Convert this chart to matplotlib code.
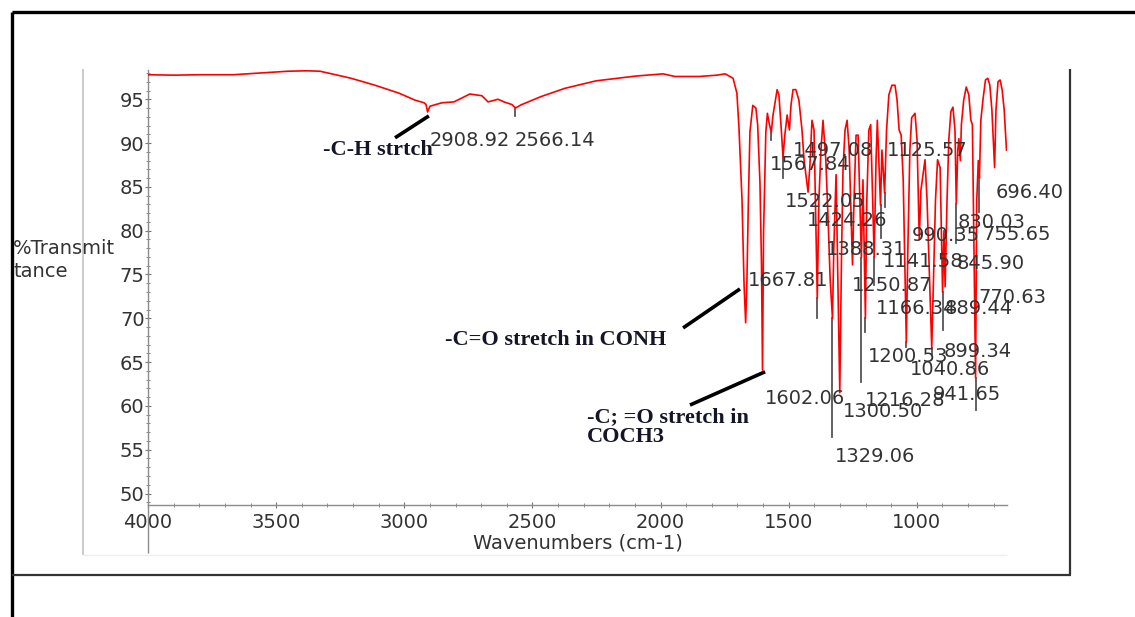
import matplotlib.pyplot as plt
import numpy as np
from matplotlib.lines import Line2D
from matplotlib.ticker import MultipleLocator

W, H = 1135, 617

# FTIR trace, wavenumber (cm-1) descending, %T
wavenumber = [
    4000, 3900, 3800, 3668, 3563, 3454, 3380, 3329, 3298, 3208, 3114, 3021,
    2958, 2923, 2915, 2908.92, 2900, 2853, 2806, 2744, 2697, 2673, 2634, 2611,
    2580, 2566.14, 2545, 2467, 2373, 2252, 2096, 1990, 1944, 1850, 1780, 1748,
    1717, 1702, 1694, 1682, 1674, 1667.81, 1663, 1657, 1651, 1640, 1628, 1621,
    1612, 1606, 1602.06, 1598, 1589, 1583, 1577, 1567.84, 1561, 1545, 1538,
    1530, 1522.05, 1515, 1506, 1497.08, 1491, 1483, 1472, 1460, 1448, 1440,
    1424.26, 1417, 1409, 1401, 1388.31, 1382, 1374, 1366, 1355, 1346, 1338,
    1329.06, 1324, 1315, 1300.50, 1294, 1288, 1280, 1272, 1264, 1250.87, 1245,
    1237, 1229, 1216.28, 1210, 1200.53, 1195, 1187, 1180, 1166.34, 1159, 1154,
    1141.58, 1136, 1125.57, 1118, 1109, 1097, 1085, 1077, 1069, 1061, 1053,
    1040.86, 1035, 1027, 1020, 1007, 999, 990.35, 984, 968, 960, 941.65, 935,
    927, 919, 909, 899.34, 894, 889.44, 882, 875, 867, 859, 851, 845.90, 840,
    836, 830.03, 826, 817, 807, 797, 789, 783, 770.63, 766, 760, 755.65, 750,
    742, 732, 723, 715, 707, 696.40, 691, 683, 675, 667, 659, 650,
]
transmittance = [
    97.8, 97.75, 97.8, 97.8, 98.0, 98.2, 98.25, 98.2, 98.0, 97.4, 96.6, 95.7,
    94.9, 94.6, 94.4, 93.55, 94.2, 94.6, 94.7, 95.6, 95.4, 94.7, 95.0, 94.7,
    94.4, 94.0, 94.35, 95.3, 96.25, 97.1, 97.65, 97.9, 97.6, 97.6, 97.75, 97.9,
    97.4, 95.7, 91.8, 83.5, 73.8, 69.5, 74.1, 83.7, 91.3, 94.3, 94.0, 92.1,
    85.5, 76.1, 64.1, 79.8, 91.3, 93.4, 92.4, 91.2, 93.2, 96.1, 95.5,
    92.1, 88.4, 90.9, 93.2, 91.5, 94.3, 96.1, 96.1, 94.9, 91.5, 88.1,
    84.4, 87.5, 92.6, 91.5, 72.3, 83.5, 89.2, 92.6, 88.1, 81.2, 74.4,
    70.0, 77.8, 86.4, 61.5, 76.7, 86.9, 91.5, 92.6, 89.3, 76.1, 83.5,
    90.9, 90.9, 76.9, 85.8, 70.0, 83.5, 91.5, 92.1, 77.0, 88.1, 92.6,
    82.9, 89.2, 84.3, 91.5, 95.5, 96.6, 96.6, 94.9, 91.5, 90.9, 85.8,
    67.3, 77.8, 89.2, 92.9, 93.4, 90.4, 79.0, 84.6, 88.1, 83.5, 66.6, 74.4,
    83.5, 88.1, 87.2, 73.0, 80.0, 73.6, 83.5, 90.4, 93.6, 94.1, 91.5, 83.1, 89.2,
    90.5, 88.0, 92.1, 94.9, 96.4, 95.5, 92.6, 92.1, 63.2, 83.5, 88.0, 86.0, 92.6,
    94.9, 97.2, 97.4, 96.6, 93.8, 87.2, 93.8, 97.0, 97.2, 96.1, 93.8, 89.2,
]

peaks = [
    2908.92, 2566.14, 1667.81, 1602.06, 1567.84, 1522.05, 1497.08, 1424.26,
    1388.31, 1329.06, 1300.50, 1250.87, 1216.28, 1200.53, 1166.34, 1141.58,
    1125.57, 1040.86, 990.35, 941.65, 899.34, 889.44, 845.90, 830.03, 770.63,
    755.65, 696.40,
]

# where each peak label sits: (left edge in cm-1, %T at text middle)
label_at = {
    2908.92: (2900, 90.3), 2566.14: (2568, 90.3), 1667.81: (1659, 74.3),
    1602.06: (1593, 60.9), 1567.84: (1573, 87.5), 1522.05: (1514, 83.3),
    1497.08: (1483, 89.1), 1424.26: (1428, 81.2), 1388.31: (1354, 77.8),
    1329.06: (1319, 54.2), 1300.50: (1288, 59.4), 1250.87: (1253, 73.7),
    1216.28: (1202, 60.6), 1200.53: (1191, 65.6), 1166.34: (1159, 71.1),
    1141.58: (1132, 76.5), 1125.57: (1116, 89.1), 1040.86: (1027, 64.2),
    990.35: (1019, 79.5), 941.65: (937, 61.3), 899.34: (894, 66.2),
    889.44: (890, 71.1), 845.90: (843, 76.2), 830.03: (839, 80.9),
    770.63: (761, 72.4), 755.65: (746, 79.6), 696.40: (691, 84.4),
}

# grey drop lines under the peaks, down to this %T
drop_to = {
    2566.14: 93.1, 1567.84: 90.3, 1522.05: 86.0, 1388.31: 70.0, 1329.06: 56.5,
    1216.28: 62.7, 1200.53: 68.4, 1166.34: 73.8, 1141.58: 79.2, 1125.57: 82.7,
    1040.86: 66.7, 941.65: 65.9, 899.34: 68.7, 845.90: 78.6, 770.63: 59.5,
    755.65: 82.1,
}

# band assignments: text, text anchor, pointer line
assignments = [
    ("-C-H strtch", (3317, 89.2), ((3036, 90.6), (2904, 93.1))),
    ("-C=O stretch in CONH", (2841, 67.5), ((1912, 68.9), (1690, 73.35))),
    ("-C; =O stretch in\nCOCH3", (2287, 57.6), ((1885, 60.1), (1592, 63.9))),
]

fig = plt.figure(figsize=(W / 100, H / 100), dpi=100)


def fig_line(x0, y0, x1, y1, color, lw):
    fig.add_artist(Line2D([x0 / W, x1 / W], [1 - y0 / H, 1 - y1 / H],
                          color=color, lw=lw, transform=fig.transFigure,
                          solid_capstyle="butt"))


# page frame
fig_line(12, 12, 1135, 12, "black", 2.4)
fig_line(12, 12, 12, 617, "black", 2.4)
fig_line(12, 575, 1071, 575, "#333333", 1.6)
fig_line(1070, 69, 1070, 575, "#333333", 1.6)
fig_line(83, 69, 83, 555, "#c4c4c4", 1.2)
fig_line(83, 555, 1007, 555, "#eeeeee", 1.0)
fig_line(148, 505, 148, 553, "#8c8c8c", 1.0)

left, right, top, bottom = 148, 1007, 70, 505
ax = fig.add_axes([left / W, 1 - bottom / H, (right - left) / W, (bottom - top) / H])
ax.set_xlim(4000, 648)
ax.set_ylim(48.69, 98.34)

ax.plot(wavenumber, transmittance, color="#ff0000", lw=1.2, zorder=3)

wn_up = np.array(wavenumber[::-1])
t_up = np.array(transmittance[::-1])
for p in peaks:
    if p in drop_to:
        t0 = np.interp(p, wn_up, t_up)
        ax.plot([p, p], [t0, drop_to[p]], color="#555555", lw=1.3, zorder=2)
    lx, ly = label_at[p]
    ax.text(lx, ly, f"{p:.2f}", ha="left", va="center", fontsize=14,
            color="#333333", zorder=4, clip_on=False)

for text, (tx, ty), ((x0, y0), (x1, y1)) in assignments:
    ax.plot([x0, x1], [y0, y1], color="black", lw=2.6, solid_capstyle="butt",
            zorder=5, clip_on=False)
    ax.text(tx, ty, text, ha="left", va="center", fontsize=16,
            family="Liberation Serif", weight="bold", color="#151528",
            linespacing=0.95, zorder=5)

for side in ("top", "right"):
    ax.spines[side].set_visible(False)
for side in ("left", "bottom"):
    ax.spines[side].set_color("#8c8c8c")
    ax.spines[side].set_linewidth(1.0)

ax.xaxis.set_minor_locator(MultipleLocator(100))
ax.yaxis.set_minor_locator(MultipleLocator(1))
ax.set_xticks([4000, 3500, 3000, 2500, 2000, 1500, 1000])
ax.set_yticks(range(50, 100, 5))
ax.tick_params(which="both", direction="inout", color="#777777", labelsize=14,
               labelcolor="#333333")
ax.tick_params(which="major", length=5)
ax.tick_params(which="minor", length=3)
ax.tick_params(axis="x", pad=3)
ax.tick_params(axis="y", pad=0)

ax.set_xlabel("Wavenumbers (cm-1)", fontsize=14, color="#333333", labelpad=1)
fig.text(13 / W, 1 - 260 / H, "%Transmit\ntance", ha="left", va="center",
         fontsize=14, color="#333333", linespacing=1.28)

fig.savefig("out.png", dpi=100)
